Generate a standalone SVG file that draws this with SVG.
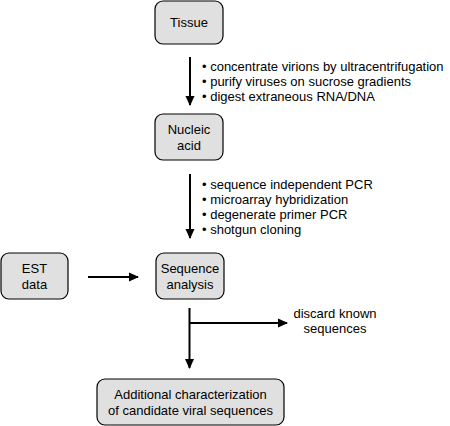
<svg xmlns="http://www.w3.org/2000/svg" width="450" height="426" viewBox="0 0 450 426">
<style>
.box{fill:#e0e0e0;stroke:#000;stroke-width:1.2}
text{font-family:"Liberation Sans",Arial,sans-serif;font-size:13px;fill:#000}
.c{text-anchor:middle}
.ln{stroke:#000;stroke-width:2;fill:none}
</style>
<defs>
<marker id="ah" markerWidth="10" markerHeight="10" refX="9" refY="5" orient="auto" markerUnits="userSpaceOnUse">
<path d="M0,0.5 L10,5 L0,9.5 Z" fill="#000"/>
</marker>
</defs>
<rect width="450" height="426" fill="#fff"/>
<g id="tissue">
<rect class="box" x="155" y="1" width="68" height="43" rx="8"/>
<text class="c" x="189" y="27">Tissue</text>
</g>
<g id="nucleic">
<rect class="box" x="155" y="114" width="68" height="46" rx="8"/>
<text class="c" x="189" y="134">Nucleic</text>
<text class="c" x="189" y="150">acid</text>
</g>
<g id="est">
<rect class="box" x="1" y="253" width="67" height="46" rx="8"/>
<text class="c" x="34.5" y="273">EST</text>
<text class="c" x="34.5" y="289">data</text>
</g>
<g id="seq">
<rect class="box" x="156" y="253" width="68" height="46" rx="8"/>
<text class="c" x="190" y="273">Sequence</text>
<text class="c" x="190" y="289">analysis</text>
</g>
<g id="additional">
<rect class="box" x="97" y="379" width="187" height="46" rx="8"/>
<text class="c" x="190.5" y="399">Additional characterization</text>
<text class="c" x="190.5" y="415">of candidate viral sequences</text>
</g>
<g id="labels">
<text x="202" y="71">• concentrate virions by ultracentrifugation</text>
<text x="202" y="86">• purify viruses on sucrose gradients</text>
<text x="202" y="101">• digest extraneous RNA/DNA</text>
<text x="202" y="189">• sequence independent PCR</text>
<text x="202" y="204">• microarray hybridization</text>
<text x="202" y="219">• degenerate primer PCR</text>
<text x="202" y="234">• shotgun cloning</text>
<text class="c" x="335" y="318">discard known</text>
<text class="c" x="335" y="333">sequences</text>
</g>
<g id="connectors">
<line class="ln" x1="190" y1="57" x2="190" y2="105" marker-end="url(#ah)"/>
<line class="ln" x1="190" y1="174" x2="190" y2="238" marker-end="url(#ah)"/>
<line class="ln" x1="88" y1="277" x2="138" y2="277" marker-end="url(#ah)"/>
<line class="ln" x1="189.5" y1="308" x2="189.5" y2="368" marker-end="url(#ah)"/>
<line class="ln" x1="189.5" y1="323" x2="287" y2="323" marker-end="url(#ah)"/>
</g>
</svg>
